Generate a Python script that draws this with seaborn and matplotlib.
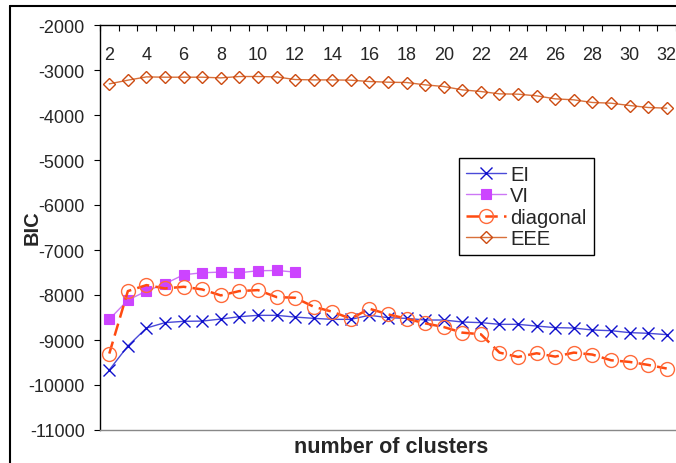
import numpy as np
import pandas as pd
import matplotlib
matplotlib.use("Agg")
import matplotlib.pyplot as plt
from matplotlib.lines import Line2D
import seaborn as sns

clusters = [2, 3, 4, 5, 6, 7, 8, 9, 10, 11, 12, 13, 14, 15, 16, 17,
            18, 19, 20, 21, 22, 23, 24, 25, 26, 27, 28, 29, 30, 31, 32]
vi_clusters = [2, 3, 4, 5, 6, 7, 8, 9, 10, 11, 12]

ei = [-9665, -9133, -8734, -8614, -8585, -8580, -8534, -8482, -8452, -8452,
      -8490, -8519, -8541, -8541, -8450, -8504, -8519, -8556, -8556, -8600,
      -8614, -8652, -8652, -8690, -8725, -8734, -8778, -8793, -8836, -8851, -8881]
vi = [-8541, -8113, -7913, -7750, -7550, -7506, -7491, -7506, -7461, -7455, -7491]
diagonal = [-9302, -7913, -7780, -7854, -7817, -7876, -8009, -7913, -7891, -8046,
            -8061, -8261, -8372, -8526, -8305, -8430, -8526, -8630, -8712, -8836,
            -8873, -9280, -9376, -9295, -9369, -9280, -9324, -9450, -9487, -9553, -9634]
eee = [-3308, -3226, -3153, -3160, -3160, -3160, -3175, -3145, -3145, -3153,
       -3212, -3220, -3220, -3226, -3256, -3271, -3278, -3330, -3367, -3441,
       -3478, -3530, -3537, -3574, -3641, -3663, -3722, -3737, -3789, -3833, -3848]

y_ticks = [-2000, -3000, -4000, -5000, -6000, -7000, -8000, -9000, -10000, -11000]
x_labels = [2, 4, 6, 8, 10, 12, 14, 16, 18, 20, 22, 24, 26, 28, 30, 32]

sns.set_style("white")
plt.rcParams['font.family'] = ['Liberation Sans', 'DejaVu Sans']

W, H = 676, 464
fig = plt.figure(figsize=(W / 100, H / 100), dpi=100)
ax = fig.add_axes([100 / W, 1 - 431 / H, 576 / W, (431 - 26) / H])

df_ei = pd.DataFrame({"k": clusters, "bic": ei})
df_vi = pd.DataFrame({"k": vi_clusters, "bic": vi})
df_dg = pd.DataFrame({"k": clusters, "bic": diagonal})
df_eee = pd.DataFrame({"k": clusters, "bic": eee})

sns.lineplot(data=df_ei, x="k", y="bic", ax=ax, label="EI", color="#4a4ad8",
             linewidth=1.0, marker="x", markersize=8, markeredgecolor="#1010cc",
             markeredgewidth=1.0)
sns.lineplot(data=df_vi, x="k", y="bic", ax=ax, label="VI", color="#cc77f5",
             linewidth=1.0, marker="s", markersize=7, markeredgecolor="#cc44ff",
             markerfacecolor="#cc44ff", markeredgewidth=0.8)
sns.lineplot(data=df_dg, x="k", y="bic", ax=ax, label="diagonal", color="#ff4a10",
             linewidth=1.8, linestyle=(0, (5, 2.5)), marker="o", markersize=10,
             markeredgecolor="#ff6a3a", markerfacecolor="none", markeredgewidth=1.0)
sns.lineplot(data=df_eee, x="k", y="bic", ax=ax, label="EEE", color="#d8703a",
             linewidth=1.0, marker="D", markersize=6.5, markeredgecolor="#cc4a10",
             markerfacecolor="none", markeredgewidth=1.0)

ax.set_xlim(1.5, 32.14)
ax.set_ylim(-11000, -2000)

# x axis on top, ticks between categories, labels inside plot
ax.xaxis.tick_top()
ax.set_xticks(np.arange(1.5, 33.0, 1.0))
ax.set_xticklabels([])
ax.set_xticks(x_labels, labels=[str(v) for v in x_labels], minor=True)
ax.tick_params(axis="x", which="major", direction="in", length=4.5, width=0.8,
               color="black", top=True, bottom=False)
ax.tick_params(axis="x", which="minor", length=0, top=True, bottom=False,
               labeltop=True, labelbottom=False, pad=-27, labelsize=13)

ax.set_yticks(y_ticks)
ax.set_yticklabels([str(v) for v in y_ticks])
ax.tick_params(axis="y", direction="out", length=4, width=0.8, color="black",
               left=True, pad=7, labelsize=13)

ax.set_xlabel("")
ax.set_ylabel("")
fig.text(391 / W, 1 - 448 / H, "number of clusters", ha="center", va="center",
         fontsize=15.5, fontweight="bold")
fig.text(32 / W, 1 - 228 / H, "BIC", ha="center", va="center", rotation=90,
         fontsize=14.5, fontweight="bold")

for s in ["left", "top"]:
    ax.spines[s].set_color("black")
    ax.spines[s].set_linewidth(1.0)
ax.spines["right"].set_visible(False)
ax.spines["bottom"].set_color("#888888")
ax.spines["bottom"].set_linewidth(1.0)

leg = ax.legend(loc="upper left", bbox_to_anchor=(459 / W, 1 - 159 / H),
                bbox_transform=fig.transFigure, borderaxespad=0, fontsize=14.5,
                frameon=True, fancybox=False, edgecolor="black", framealpha=1,
                handlelength=2.0, handletextpad=0.2, labelspacing=0.12,
                borderpad=0.35)
leg.get_frame().set_linewidth(1.0)

# outer chart-area border
fig.add_artist(Line2D([10 / W, 10 / W], [0, 1 - 7 / H], color="black",
                      linewidth=1.5, transform=fig.transFigure))
fig.add_artist(Line2D([10 / W, 1], [1 - 7 / H, 1 - 7 / H], color="black",
                      linewidth=1.5, transform=fig.transFigure))

fig.savefig("out.png", dpi=100)
